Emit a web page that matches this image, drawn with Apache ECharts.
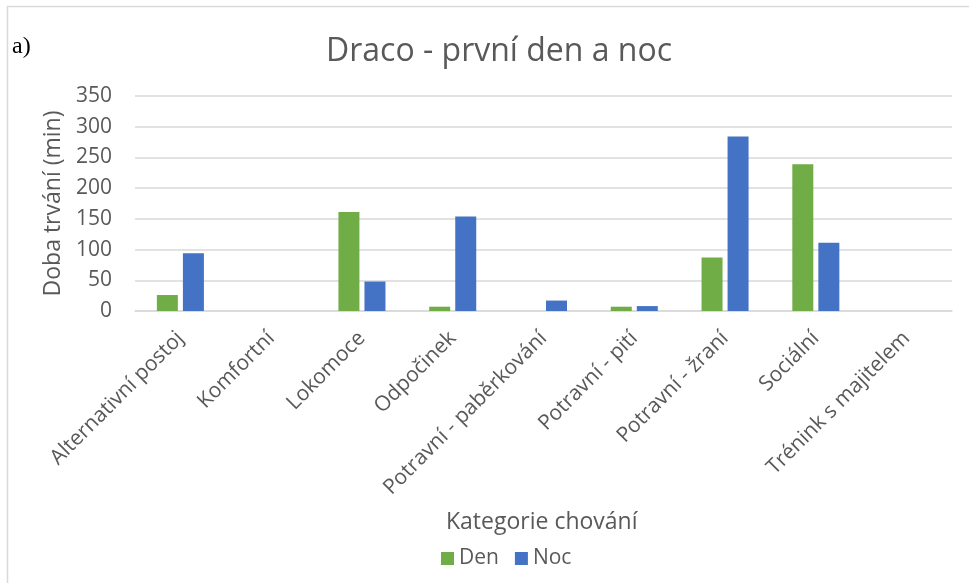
<!DOCTYPE html>
<html>
<head>
<meta charset="utf-8">
<script src="https://cdn.jsdelivr.net/npm/echarts@6/dist/echarts.min.js"></script>
<style>
  html, body { margin: 0; padding: 0; background: #fff; }
  #main { width: 969px; height: 583px; }
</style>
</head>
<body>
<div id="main"></div>
<script>
// kategorie chování
var categories = ['Alternativní postoj', 'Komfortní', 'Lokomoce', 'Odpočinek',
    'Potravní - paběrkování', 'Potravní - pití', 'Potravní - žraní', 'Sociální',
    'Trénink s majitelem'];
var den = [26, 0, 161, 7, 0, 7, 87, 239, 0];
var noc = [94, 0, 48, 154, 17, 8, 284, 111, 0];
var yTicks = [0, 50, 100, 150, 200, 250, 300, 350];

var font = 'Open Sans';
var grey = '#595959';

var myChart = echarts.init(document.getElementById('main'));

var option = {
    animation: false,
    textStyle: { fontFamily: font },
    title: {
        text: 'Draco - první den a noc',
        left: 494,
        textAlign: 'center',
        top: 31,
        textStyle: { fontFamily: font, fontSize: 32, fontWeight: 'normal', color: grey }
    },
    graphic: [
        {
            type: 'rect',
            shape: { x: 7.5, y: 6.5, width: 1200, height: 1200 },
            style: { fill: 'none', stroke: '#d9d9d9', lineWidth: 1.5 }
        },
        {
            type: 'text',
            left: 12,
            top: 35,
            style: { text: 'a)', font: '24px "Liberation Serif"', fill: '#000' }
        },
        {
            type: 'text',
            left: 446,
            top: 511,
            style: { text: 'Kategorie chování', font: '23px "Open Sans"', fill: grey }
        }
    ],
    legend: {
        data: ['Den', 'Noc'],
        top: 543,
        left: 436,
        itemWidth: 13,
        itemHeight: 13,
        itemGap: 16,
        icon: 'rect',
        textStyle: { fontFamily: font, fontSize: 21, color: grey }
    },
    grid: {
        left: 135,
        right: 17,
        top: 96,
        bottom: 272,
        containLabel: false
    },
    xAxis: {
        type: 'category',
        data: categories,
        axisLine: { show: true, lineStyle: { color: '#d9d9d9', width: 1.5 } },
        axisTick: { show: false },
        axisLabel: {
            interval: 0,
            rotate: 45,
            margin: 24,
            fontFamily: font,
            fontSize: 21,
            color: grey
        }
    },
    yAxis: {
        type: 'value',
        min: yTicks[0],
        max: yTicks[yTicks.length - 1],
        interval: 50,
        name: 'Doba trvání (min)',
        nameLocation: 'middle',
        nameGap: 70,
        nameTextStyle: { fontFamily: font, fontSize: 23, color: grey },
        axisLine: { show: false },
        axisTick: { show: false },
        axisLabel: { fontFamily: font, fontSize: 21, color: grey, margin: 23 },
        splitLine: { lineStyle: { color: '#d9d9d9', width: 1.5 } }
    },
    series: [
        {
            name: 'Den',
            type: 'bar',
            data: den,
            barWidth: 21,
            barGap: '24%',
            itemStyle: { color: '#70ad47' }
        },
        {
            name: 'Noc',
            type: 'bar',
            data: noc,
            barWidth: 21,
            barGap: '24%',
            itemStyle: { color: '#4472c4' }
        }
    ]
};
myChart.setOption(option);
</script>
</body>
</html>
